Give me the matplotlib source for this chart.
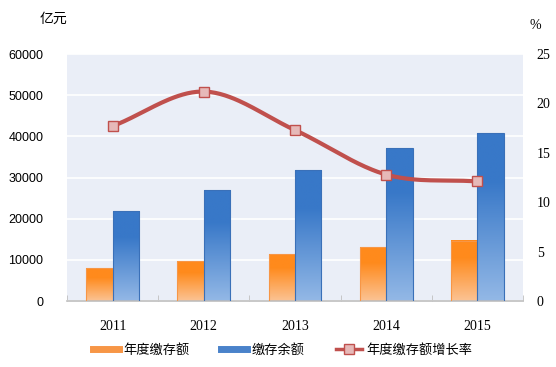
import numpy as np
import matplotlib
matplotlib.use('Agg')
import matplotlib.pyplot as plt
from matplotlib.lines import Line2D
from matplotlib.patches import Rectangle

plt.rcParams['font.family'] = ['Noto Sans CJK SC', 'DejaVu Sans']

# Data
years = ['2011', '2012', '2013', '2014', '2015']
annual_deposit = [8000, 9700, 11400, 13100, 14600]      # 年度缴存额 (亿元)
deposit_balance = [21800, 26900, 31800, 37100, 40800]   # 缴存余额 (亿元)
growth_rate = [17.7, 21.2, 17.3, 12.8, 12.1]            # 年度缴存额增长率 (%)
left_ticks = [0, 10000, 20000, 30000, 40000, 50000, 60000]
right_ticks = [0, 5, 10, 15, 20, 25]

bg = '#EAEEF7'
orange_top, orange_bot = '#FF8A1C', '#FBC394'
blue_top, blue_bot = '#3878C8', '#93B8E6'
line_col = '#C0504D'


def grad_bar(ax, x0, w, h, top, bot, edge):
    c1 = np.array(matplotlib.colors.to_rgb(bot))
    c2 = np.array(matplotlib.colors.to_rgb(top))
    t = np.linspace(0, 1, 100)[:, None]
    t = np.clip(t * 1.4, 0, 1)
    img = (c1 * (1 - t) + c2 * t)[::-1][:, None, :]
    ax.imshow(img, extent=[x0, x0 + w, 0, h], aspect='auto', zorder=2,
              interpolation='bilinear')
    ax.add_patch(Rectangle((x0, 0), w, h, fill=False, edgecolor=edge,
                           lw=0.8, zorder=3))


def smooth(xs, ys, n=40):
    # Catmull-Rom curve through the points (drawing only)
    xs = np.asarray(xs, float)
    ys = np.asarray(ys, float)
    px = np.concatenate([[2 * xs[0] - xs[1]], xs, [2 * xs[-1] - xs[-2]]])
    py = np.concatenate([[2 * ys[0] - ys[1]], ys, [2 * ys[-1] - ys[-2]]])
    ox, oy = [], []
    for i in range(1, len(px) - 2):
        t = np.linspace(0, 1, n)
        for p, o in ((px, ox), (py, oy)):
            p0, p1, p2, p3 = p[i - 1], p[i], p[i + 1], p[i + 2]
            o.extend(0.5 * (2 * p1 + (-p0 + p2) * t
                            + (2 * p0 - 5 * p1 + 4 * p2 - p3) * t ** 2
                            + (-p0 + 3 * p1 - 3 * p2 + p3) * t ** 3))
    return ox, oy


fig = plt.figure(figsize=(5.56, 3.67), dpi=100)
ax = fig.add_axes([0.1205, 0.1798, 0.82, 0.673])
ax.set_facecolor(bg)
x = np.arange(len(years))
w = 0.29

for i in x:
    grad_bar(ax, i - w, w, annual_deposit[i], orange_top, orange_bot, '#F79646')
    grad_bar(ax, i, w, deposit_balance[i], blue_top, blue_bot, '#3A70B8')

ax.set_xlim(-0.5, 4.5)
ax.set_ylim(0, 60000)
ax.set_yticks(left_ticks)
ax.set_yticklabels([str(v) for v in left_ticks], family='Liberation Sans', fontsize=9)
ax.yaxis.grid(True, color='white', lw=1.2)
ax.set_axisbelow(True)
ax.tick_params(axis='y', length=0, pad=17, colors='black')
ax.set_xticks(x)
ax.set_xticklabels(years, family='Liberation Serif', fontsize=10)
ax.set_xticks(np.arange(-0.5, 5.0, 1.0), minor=True)
ax.tick_params(axis='x', which='major', length=0, pad=14)
ax.tick_params(axis='x', which='minor', length=4, direction='in', color='#BFBFBF')
for s in ['left', 'right', 'top']:
    ax.spines[s].set_visible(False)
ax.spines['bottom'].set_color('#BFBFBF')
ax.spines['bottom'].set_linewidth(1.2)

ax2 = ax.twinx()
ax2.set_ylim(0, 25)
ax2.set_yticks(right_ticks)
ax2.set_yticklabels([str(v) for v in right_ticks], family='Liberation Serif', fontsize=10)
ax2.tick_params(axis='y', length=0, pad=10)
for s in ax2.spines.values():
    s.set_visible(False)
sx, sy = smooth(x, growth_rate)
ax2.plot(sx, sy, color=line_col, lw=3, zorder=4, solid_capstyle='round')
ax2.plot(x, growth_rate, ls='none', marker='s', ms=7, mfc='#E6B9B8',
         mec=line_col, mew=1, zorder=5)

fig.text(0.072, 0.95, '亿元', fontsize=10, ha='left', va='center')
fig.text(0.953, 0.93, '%', fontsize=10, ha='left', va='center',
         family='Liberation Serif')

handles = [
    Line2D([], [], color='#F79646', lw=5),
    Line2D([], [], color='#4A82CA', lw=5),
    Line2D([], [], color=line_col, lw=2.5, marker='s', ms=7,
           mfc='#E6B9B8', mec=line_col),
]
labels = ['年度缴存额', '缴存余额', '年度缴存额增长率']
fig.legend(handles, labels, loc='center', bbox_to_anchor=(0.508, 0.045),
           ncol=3, frameon=False, fontsize=9.5, handlelength=2.0,
           handletextpad=0.3, columnspacing=2.4)

fig.savefig('out.png', dpi=100, facecolor='white')
